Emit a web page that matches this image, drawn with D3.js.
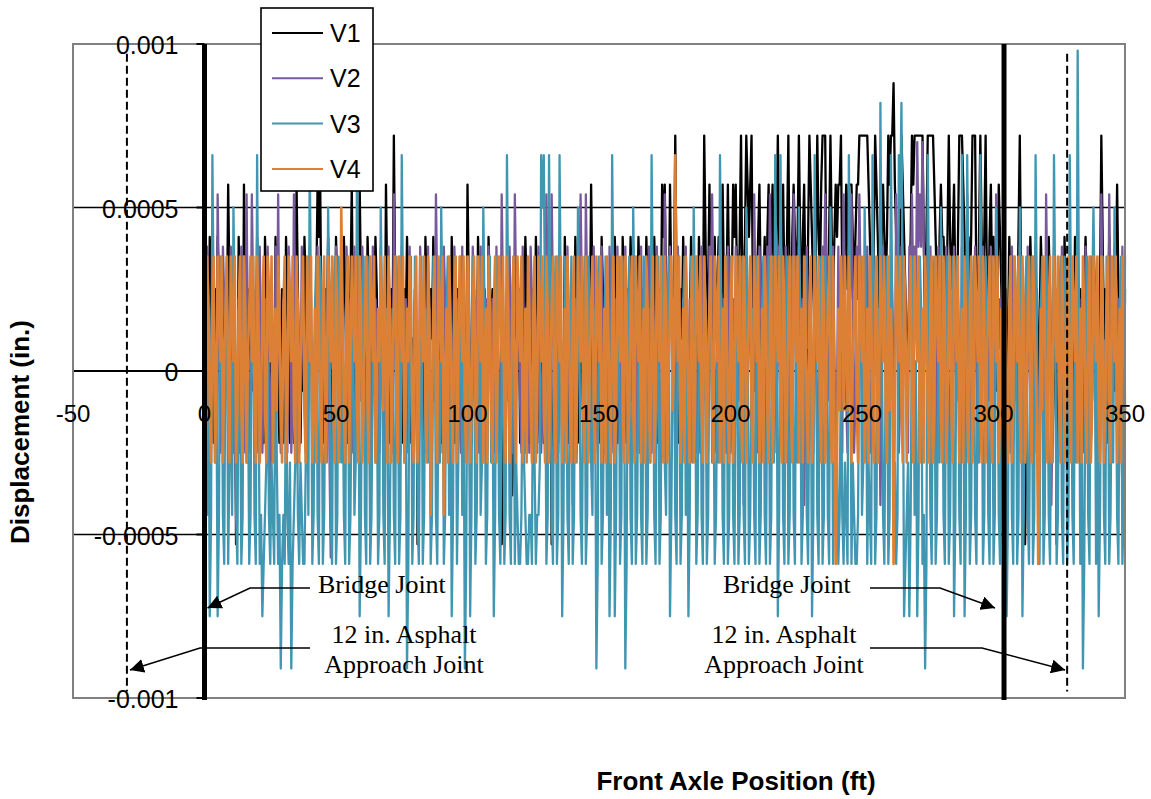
<!DOCTYPE html>
<html><head><meta charset="utf-8">
<script src="https://cdn.jsdelivr.net/npm/d3@7"></script>
<style>body{margin:0;background:#fff}svg{display:block}</style>
</head><body><svg id="c" width="1151" height="799"></svg>
<script>
// ---- data: displacement in units of 1e-5 in., one sample every 0.5 ft of front axle position ----
const seriesNames = ["V1", "V2", "V3", "V4"];
const seriesColors = ["#000000", "#77599c", "#4197b2", "#dc8035"];
const seriesWidths = [2.3, 2.3, 2.3, 2.6];
const sampleStartFt = 0;
const sampleStepFt = 0.5;
const valueUnit = 1e-5;

const v1 = [
10,25,-22,10,41,25,-6,-22,25,10,41,25,-22,-6,10,25,-6,10,57,25,
-22,-6,25,10,-53,-22,41,10,-6,-22,57,25,-22,-6,25,10,-6,25,10,-6,
41,25,-22,-6,10,-22,41,25,-6,-22,25,10,-22,-6,41,25,-6,-22,10,25,
-22,-6,41,25,-6,-22,25,10,-22,-6,57,25,-6,-22,10,-6,41,25,-22,-6,
25,10,-6,-22,10,25,57,41,57,10,-22,-6,25,10,41,25,-6,-22,10,-6,
41,25,-22,-6,25,10,41,25,-6,-22,10,25,57,10,-22,-6,25,10,57,25,
-6,-22,10,-6,41,25,-22,-6,25,10,41,25,-6,-22,10,25,-22,-6,57,25,
-6,-22,25,10,72,25,-22,-6,10,25,-6,-22,25,10,41,25,-22,-6,10,-22,
25,10,-53,-22,10,25,-6,-22,41,25,-22,-6,25,10,41,25,-6,-22,10,25,
-22,-6,25,25,-6,-22,10,-6,41,25,-22,-6,25,25,-6,-22,10,25,-22,-6,
57,25,-6,-22,10,25,-22,-6,41,25,-6,-22,25,25,-22,-6,41,25,10,25,
-6,-22,25,10,-22,-6,-53,-22,10,-6,25,10,-6,10,-38,-22,25,10,10,25,
-22,-6,25,10,41,25,-6,-22,10,25,-22,-6,41,25,-6,-22,25,10,-22,-6,
10,-6,25,10,-53,-22,10,25,-6,-22,25,10,-22,-6,41,25,-6,-22,10,25,
-22,-6,41,25,-6,-22,25,10,-22,-6,10,25,-6,10,57,25,-22,-6,25,10,
-6,-22,41,25,-22,-6,10,-22,25,25,-6,-22,41,25,-22,-6,10,-22,41,25,
-6,-22,25,10,41,25,-22,-6,10,10,41,25,-6,-22,25,10,41,25,-22,-6,
10,-6,41,25,-6,-22,25,10,57,41,57,25,-6,10,57,25,10,25,72,25,
-22,-6,25,10,41,25,-6,-22,10,10,41,25,-22,-6,25,10,41,25,-6,10,
72,41,10,25,57,25,-6,25,41,10,25,41,-6,10,57,25,10,25,57,25,
-6,25,57,41,57,25,10,41,72,25,25,41,72,57,41,57,72,25,-6,10,
25,41,57,25,-6,25,41,10,41,57,10,41,57,25,-6,41,72,41,25,41,
57,25,10,41,72,25,-6,41,57,41,25,41,72,41,10,41,57,25,-6,41,
72,57,41,25,10,41,72,41,25,57,72,72,72,25,-6,41,72,41,25,41,
57,41,57,57,72,25,10,41,57,25,57,57,57,41,25,41,57,57,72,72,
72,72,72,72,72,57,41,25,10,41,72,57,41,25,-6,41,57,41,25,41,
72,57,72,72,88,57,41,25,10,41,72,57,41,25,-6,10,25,41,72,57,
72,72,72,72,72,72,72,41,10,41,72,72,72,72,72,57,41,25,-6,41,
57,41,41,25,10,41,72,41,25,41,57,25,-6,41,72,72,72,57,41,25,
10,41,25,41,72,72,72,25,-6,41,72,41,25,41,72,25,10,41,57,25,
41,25,-6,25,57,41,25,-6,10,25,-22,10,41,25,-6,-22,25,-6,10,41,
72,25,-6,10,-53,-22,25,10,41,25,-22,-6,10,25,-6,10,41,25,-22,-6,
25,10,41,25,-6,-22,10,25,-53,-22,25,10,-6,-22,41,25,-22,-6,10,25,
-6,10,41,25,-22,-6,25,-22,10,25,41,25,-6,10,-22,-6,41,25,10,25,
-6,25,72,41,10,25,-22,10,41,10,25,25,-6,25,57,25,10,-6,-38,-22,25
];
const v2 = [
7,-9,38,22,-25,-9,22,7,-9,-25,54,22,-25,-9,38,22,7,22,-9,-25,
38,7,-25,7,-41,-9,22,-25,38,22,-9,-25,54,7,-25,-9,54,22,7,22,
-9,-25,38,7,-25,-9,22,-25,38,22,-41,-9,7,-25,38,-9,54,7,-25,-9,
22,7,-9,-25,38,22,-25,-9,54,22,7,22,-25,-9,38,7,-9,-25,22,-9,
38,22,-25,-9,7,-25,38,7,-9,-25,22,7,-25,-9,38,-25,-57,-25,7,-9,
38,7,-25,-9,22,7,-9,-25,38,22,7,22,-25,-9,38,7,-9,-25,22,-9,
38,22,-25,-9,7,22,-41,-9,38,7,22,7,-9,-25,38,7,-25,-9,7,-25,
38,7,-9,-25,54,22,-25,-9,22,-25,38,22,-9,22,7,-25,38,7,-25,-9,
22,7,-9,-25,38,22,7,22,-25,-9,38,7,-9,-25,22,-9,54,22,-25,-9,
7,-25,38,22,-9,-25,22,7,-25,-9,38,22,7,22,-9,-25,38,7,-25,-9,
22,7,-41,-9,38,22,7,22,-9,-25,38,7,-25,-9,22,-25,38,22,-9,22,
7,-25,38,7,-25,-9,54,22,-9,-25,22,-9,38,7,-25,-9,54,22,7,22,
-9,-25,38,7,-25,-9,22,-25,38,22,-9,22,7,-25,38,7,-25,-9,22,-9,
54,22,-9,-25,54,22,-25,22,7,-25,38,7,-9,-25,22,-9,38,7,-25,22,
-41,-9,22,-25,38,22,54,22,-9,-25,54,22,-25,22,7,-25,38,7,-9,-25,
22,-9,38,7,-25,22,7,-25,38,22,-9,-25,22,-9,38,7,-25,22,7,-25,
38,7,-9,-25,22,-9,38,7,-25,22,7,-25,38,7,-9,-25,22,-9,38,7,
-25,22,7,-25,38,7,-9,-25,22,-9,54,22,-25,-9,38,22,7,22,-9,-25,
38,7,-25,-9,22,-25,38,7,-9,22,7,-25,38,7,-25,-9,22,-25,38,7,
-9,22,7,-25,38,22,54,22,-25,-9,22,-9,38,7,-9,22,7,-25,38,7,
-25,-9,22,-25,38,7,-9,22,7,22,-41,-9,38,7,22,7,-9,-25,54,22,
-25,-9,38,22,7,22,-9,-25,38,22,54,22,-25,-9,22,-25,38,7,-9,22,
7,-25,38,7,-25,-9,22,-25,54,22,-9,-25,38,22,7,22,-41,-9,38,7,
22,7,-9,-25,38,7,-25,-9,22,-25,38,22,54,22,-9,22,7,-25,38,7,
-25,-9,38,7,22,-25,54,22,-9,-25,38,22,54,22,-25,-9,38,22,54,22,
-9,-25,22,-9,38,7,-25,-9,38,22,7,22,-9,7,-41,-9,38,7,22,7,
-9,-25,38,22,7,-9,54,22,-25,-9,38,7,22,7,-9,-25,38,22,54,22,
38,22,70,38,54,38,70,38,22,7,-9,-25,38,7,-25,-9,22,-25,38,7,
-9,22,7,-25,38,7,-25,-9,22,-25,38,7,-9,22,7,-25,38,7,-25,-9,
54,22,-9,-25,22,-9,38,7,-25,22,7,-25,38,7,-9,-25,22,-9,38,7,
-41,-9,54,22,7,22,-9,-25,38,7,-25,-9,22,-25,38,7,-9,22,7,-25,
38,7,-25,-9,22,-25,38,7,-9,22,7,-25,38,7,-25,-9,22,7,-9,-25,
54,22,7,22,-41,-9,38,7,22,7,-9,-25,38,7,-25,22,7,-25,38,7,
-9,-25,22,-9,38,7,-25,22,7,-25,38,7,-9,-25,22,-9,38,7,-25,22,
7,-25,54,22,-9,-25,22,-9,54,22,-25,-9,38,22,7,22,-9,-25,38,7,22
];
const v3 = [
19,35,-44,19,-75,-44,66,19,-28,3,-75,-44,35,19,-44,-59,19,35,-59,-28,
3,-44,50,19,-44,-59,19,3,-59,-44,35,19,-28,3,-59,-44,19,35,-44,-59,
66,3,-59,-44,-75,-59,-44,-28,3,-44,-59,-28,-44,-59,19,-28,-59,-44,-91,-59,
-44,-59,3,-44,-59,-28,-91,-59,-44,-28,19,-44,-59,-28,-44,-59,-59,-28,3,-44,
66,19,-59,-44,19,35,-44,-59,35,19,-59,-44,3,-28,50,19,-44,-59,19,35,
-59,-44,35,19,-28,3,-44,-59,19,35,-59,-44,3,19,-44,-28,66,19,-75,-44,
19,35,-44,-59,35,19,-59,-44,3,19,-28,3,-59,-44,50,19,-44,-59,19,3,
-75,-44,3,19,-44,-59,35,19,-59,-44,66,19,-28,3,-91,-59,19,35,-59,-44,
35,19,-44,-59,3,35,-59,-44,19,3,-28,19,-59,-44,35,19,-44,-59,3,-28,
50,19,-59,-44,19,35,-44,3,-75,-44,35,19,-59,-28,3,35,-44,3,-91,-59,
19,35,-75,-44,35,19,-59,-44,3,35,-44,-28,50,19,-59,-44,19,35,-28,3,
-75,-44,35,19,-44,-59,3,19,-59,-44,66,19,-44,-59,19,35,-59,-28,-44,-59,
-59,-44,3,-28,-44,-59,-59,-44,-44,-59,19,-28,-59,-44,-44,-28,66,50,66,19,
-59,-44,66,19,-44,-59,19,35,-59,-44,66,19,-75,-44,35,19,-44,-59,3,35,
-59,-44,19,-28,50,19,-44,-59,3,35,-59,-44,35,19,-28,-44,19,3,-91,-59,
35,19,-59,-44,3,35,-44,3,-75,-44,66,19,-75,-44,19,35,-59,-44,35,19,
-91,-59,19,35,-44,-59,50,19,-59,-44,3,35,-44,-59,35,19,-59,-44,19,-28,
66,19,-44,-59,3,35,-59,-44,35,19,-28,-44,19,35,-75,-44,3,19,-44,-59,
35,19,-59,-44,19,35,-44,3,-75,-44,35,-28,50,19,-59,-44,3,35,-44,-59,
35,19,-59,-44,19,35,-28,3,-59,-44,3,-28,66,19,-44,-59,19,35,-59,-44,
35,19,-44,-59,3,35,-59,-44,19,35,-44,-59,50,19,-59,-44,3,19,-44,-59,
35,19,-59,-44,19,35,-44,-59,3,35,-59,-44,35,-28,66,19,-75,-44,66,19,
-44,-59,19,35,-59,-44,3,35,-44,-59,35,-28,50,19,-59,-44,19,35,-44,-59,
3,19,-75,-44,66,19,-44,-59,19,35,-59,-44,35,19,-44,-59,50,19,-59,-28,
-44,-28,-59,-44,3,-44,-59,-28,-44,-59,66,19,-59,-28,-44,-59,-59,-44,19,35,
-44,-28,50,19,-59,-28,-44,-59,66,19,-59,-44,19,-28,82,19,-44,-59,3,35,
-59,-44,66,19,-44,-28,-59,-44,66,50,82,19,-75,-59,-44,-28,-75,-44,19,35,
-44,3,-75,-44,35,19,-59,-44,-91,-59,66,19,-44,-59,19,35,-59,-44,3,-28,
50,19,-44,-59,19,35,-59,-44,3,35,-75,-44,35,19,-44,-59,66,19,-75,-44,
66,19,-59,-44,19,35,-44,-59,3,-28,66,19,-59,-44,35,19,-44,-59,19,35,
-59,-44,50,19,-44,-59,3,35,-59,3,-75,-44,19,35,-44,-59,35,19,-59,-44,
50,19,-75,-44,19,35,-44,-59,3,35,-59,-44,66,19,-44,-59,19,35,-59,-44,
35,19,-44,-59,3,-28,66,19,-59,-44,19,35,-44,-59,35,19,-59,-44,66,19,
-44,-59,19,-28,98,19,-59,3,-91,-59,3,35,-44,-59,35,19,50,19,-59,3,
-75,-44,19,35,-44,-59,35,19,-59,-44,3,-28,50,19,-44,-59,19,35,-59,-44,35
];
const v4 = [
3,-28,35,19,-12,-28,19,35,-28,-12,35,19,3,35,-28,3,19,35,-12,-28,
35,19,3,35,-28,-12,19,35,-12,-28,35,19,-28,3,19,35,3,35,-12,-28,
35,19,-28,-12,19,35,-12,-28,35,19,3,35,-28,3,19,-12,35,19,-12,-28,
19,35,-28,-12,35,19,3,35,-12,-28,35,19,-28,3,19,35,-12,-28,35,19,
3,35,-28,-12,19,-28,35,19,-12,-28,19,35,-28,-12,35,19,3,35,-12,-28,
35,19,-28,-12,50,19,-12,-28,19,35,-28,3,35,19,3,35,-12,-28,35,19,
-28,-12,19,35,-12,-28,35,19,3,35,-28,-12,19,3,35,19,-12,35,3,-28,
35,19,-28,3,19,35,-12,-28,35,19,3,35,-28,-12,19,3,35,19,-12,-28,
19,35,-28,-12,35,19,3,35,-12,-28,35,19,-44,-12,19,35,-12,-28,35,19,
3,35,-44,-12,19,-28,35,19,-12,-28,19,35,-28,3,35,19,3,35,-12,-28,
35,19,-28,-12,19,35,-12,-28,35,19,3,35,-28,3,19,-28,35,19,-12,-28,
19,35,-28,3,35,19,3,35,-12,-28,35,19,-28,-12,19,35,-12,-28,35,19,
3,35,-28,-12,19,-28,35,19,-12,-28,19,35,-28,-12,35,19,3,35,-12,-28,
35,19,-28,3,19,35,-12,-28,35,19,3,35,-28,-12,19,-28,35,19,-12,-28,
19,35,-28,-12,35,19,3,35,-12,-28,35,19,-28,3,19,35,-12,-28,35,19,
3,35,-28,-12,19,-28,35,19,-12,-28,19,35,-28,-12,35,19,3,35,-12,-28,
35,19,-28,-12,19,35,-12,-28,35,19,3,35,-28,3,19,-28,35,19,-12,-28,
19,35,-28,-12,35,19,3,35,-12,-28,35,19,-28,3,19,35,-12,3,66,19,
3,35,-28,-12,19,-28,35,19,-12,-28,19,35,-28,-12,35,19,3,35,-12,-28,
35,19,-28,3,19,35,-12,-28,35,19,3,35,-28,-12,19,-28,35,19,-12,-28,
19,35,-28,-12,35,19,3,35,-12,-28,35,19,-28,3,19,35,-12,-28,35,19,
3,35,-28,-12,19,-28,35,19,-12,-28,19,35,-28,-12,35,19,3,35,-12,-28,
35,19,-28,-12,19,35,-12,-28,35,19,3,35,-28,3,19,-28,35,19,-12,-28,
19,35,-28,-12,35,19,3,35,-12,-28,35,19,-28,3,19,35,-12,-28,35,-12,
-59,-28,19,-12,35,19,-12,35,3,-12,35,19,-28,3,19,35,-12,-28,35,19,
3,35,-28,-12,19,-28,35,19,-12,-28,19,35,-28,-12,35,19,3,35,-12,-28,
35,-12,19,3,-59,-12,35,19,3,35,-12,-28,35,19,-28,3,19,35,-12,-28,
35,19,3,35,-28,-12,19,-28,35,19,-12,-28,19,35,-28,-12,35,19,3,35,
-12,-28,35,19,-28,-12,19,35,-12,-28,35,19,3,35,-28,3,19,-28,35,19,
-12,-28,19,35,-28,-12,35,19,3,35,-12,-28,35,19,-28,3,19,35,-12,-28,
35,19,3,35,-28,-12,19,-28,35,19,-12,-28,19,35,-28,-12,35,19,3,35,
-12,-28,35,19,-28,-12,19,35,-12,-28,35,19,3,-12,-59,-28,19,-12,35,19,
-12,-28,19,35,-28,-12,35,19,3,35,-12,-28,35,19,-28,3,19,35,-12,-28,
35,19,3,35,-28,-12,19,-28,35,19,-12,-28,19,35,-28,-12,35,19,3,35,
-12,-28,35,19,-28,-12,19,35,-12,-28,35,19,3,35,-28,3,19,-28,35,19,-12
];
const seriesValues = [v1, v2, v3, v4];

const xTickValues = [-50, 0, 50, 100, 150, 200, 250, 300, 350];
const yTickValues = [-0.001, -0.0005, 0, 0.0005, 0.001];
const yTickLabels = ["-0.001", "-0.0005", "0", "0.0005", "0.001"];
const gridValues = [-0.0005, 0.0005];
const bridgeJointsFt = [0, 304];
const approachJointsFt = [-29.5, 328];
const xTitle = "Front Axle Position (ft)";
const yTitle = "Displacement (in.)";

// ---- drawing ----
const svg = d3.select("#c");
const SANS = "'Liberation Sans', Arial, sans-serif";
const SERIF = "'Liberation Serif', 'Times New Roman', serif";
const x = d3.scaleLinear().domain([-50, 350]).range([73, 1125]);
const y = d3.scaleLinear().domain([-0.001, 0.001]).range([698, 44]);

svg.append("rect").attr("width", 1151).attr("height", 799).attr("fill", "#fff");

svg.selectAll(".grid").data(gridValues).join("line")
  .attr("x1", x(-50)).attr("x2", x(350)).attr("y1", d => y(d)).attr("y2", d => y(d))
  .attr("stroke", "#000").attr("stroke-width", 1.4);
svg.append("line").attr("x1", x(-50)).attr("x2", x(350)).attr("y1", y(0)).attr("y2", y(0))
  .attr("stroke", "#000").attr("stroke-width", 2.2);

const line = d3.line()
  .x((d, i) => x(sampleStartFt + i * sampleStepFt))
  .y(d => y(d * valueUnit));
seriesValues.forEach((vals, k) => {
  svg.append("path").datum(vals).attr("d", line)
    .attr("fill", "none").attr("stroke", seriesColors[k]).attr("stroke-width", seriesWidths[k])
    .attr("stroke-linejoin", "round");
});

svg.append("rect").attr("x", x(-50)).attr("y", y(0.001))
  .attr("width", x(350) - x(-50)).attr("height", y(-0.001) - y(0.001))
  .attr("fill", "none").attr("stroke", "#808080").attr("stroke-width", 2);

svg.selectAll(".bj").data(bridgeJointsFt).join("line")
  .attr("x1", d => x(d)).attr("x2", d => x(d)).attr("y1", y(0.001)).attr("y2", y(-0.001) + 2)
  .attr("stroke", "#000").attr("stroke-width", 5);
svg.selectAll(".aj").data(approachJointsFt).join("line")
  .attr("x1", d => x(d)).attr("x2", d => x(d)).attr("y1", y(0.00097)).attr("y2", y(-0.00098))
  .attr("stroke", "#000").attr("stroke-width", 2).attr("stroke-dasharray", "8,4");

svg.selectAll(".yt").data(yTickValues).join("line")
  .attr("x1", x(0) - 8).attr("x2", x(0)).attr("y1", d => y(d)).attr("y2", d => y(d))
  .attr("stroke", "#000").attr("stroke-width", 2);
svg.selectAll(".yl").data(yTickValues).join("text")
  .attr("x", x(0) - 26).attr("y", d => y(d) + 10)
  .attr("text-anchor", "end").attr("font-family", SANS).attr("font-size", 25)
  .text((d, i) => yTickLabels[i]);
svg.selectAll(".xl").data(xTickValues).join("text")
  .attr("x", d => x(d)).attr("y", 422)
  .attr("text-anchor", "middle").attr("font-family", SANS).attr("font-size", 24)
  .text(d => d);

svg.append("text").attr("x", 736).attr("y", 790).attr("text-anchor", "middle")
  .attr("font-family", SANS).attr("font-weight", "bold").attr("font-size", 26).text(xTitle);
svg.append("text").attr("transform", "translate(29,432) rotate(-90)").attr("text-anchor", "middle")
  .attr("font-family", SANS).attr("font-weight", "bold").attr("font-size", 26).text(yTitle);

const defs = svg.append("defs");
defs.append("marker").attr("id", "arr").attr("viewBox", "0 0 10 10").attr("refX", 10).attr("refY", 5)
  .attr("markerWidth", 14).attr("markerHeight", 14).attr("markerUnits", "userSpaceOnUse")
  .attr("orient", "auto").append("path").attr("d", "M0,0L10,5L0,10Z").attr("fill", "#000");
const ann = [
  [[310, 588], [250, 588], [x(bridgeJointsFt[0]) + 3, 608]],
  [[310, 648], [200, 648], [x(approachJointsFt[0]) + 3, 670]],
  [[870, 588], [940, 588], [x(bridgeJointsFt[1]) - 9, 608]],
  [[870, 648], [982, 648], [x(approachJointsFt[1]) - 2, 670]]
];
ann.forEach(pts => {
  svg.append("path").attr("d", d3.line()(pts)).attr("fill", "none")
    .attr("stroke", "#000").attr("stroke-width", 1.5).attr("marker-end", "url(#arr)");
});
const annText = [
  {t: "Bridge Joint", x: 318, y: 593, a: "start"},
  {t: "12 in. Asphalt", x: 404, y: 643, a: "middle"},
  {t: "Approach Joint", x: 404, y: 673, a: "middle"},
  {t: "Bridge Joint", x: 723, y: 593, a: "start"},
  {t: "12 in. Asphalt", x: 784, y: 643, a: "middle"},
  {t: "Approach Joint", x: 784, y: 673, a: "middle"}
];
svg.selectAll(".at").data(annText).join("text")
  .attr("x", d => d.x).attr("y", d => d.y).attr("text-anchor", d => d.a)
  .attr("font-family", SERIF).attr("font-size", 26).text(d => d.t);

const lg = svg.append("g");
lg.append("rect").attr("x", 261).attr("y", 8).attr("width", 112).attr("height", 183)
  .attr("fill", "#fff").attr("stroke", "#000").attr("stroke-width", 1.6);
seriesNames.forEach((n, i) => {
  const yy = 33 + i * 45.3;
  lg.append("line").attr("x1", 272).attr("x2", 323).attr("y1", yy).attr("y2", yy)
    .attr("stroke", seriesColors[i]).attr("stroke-width", 2);
  lg.append("text").attr("x", 330).attr("y", yy + 9).attr("font-family", SANS).attr("font-size", 25).text(n);
});
</script></body></html>
